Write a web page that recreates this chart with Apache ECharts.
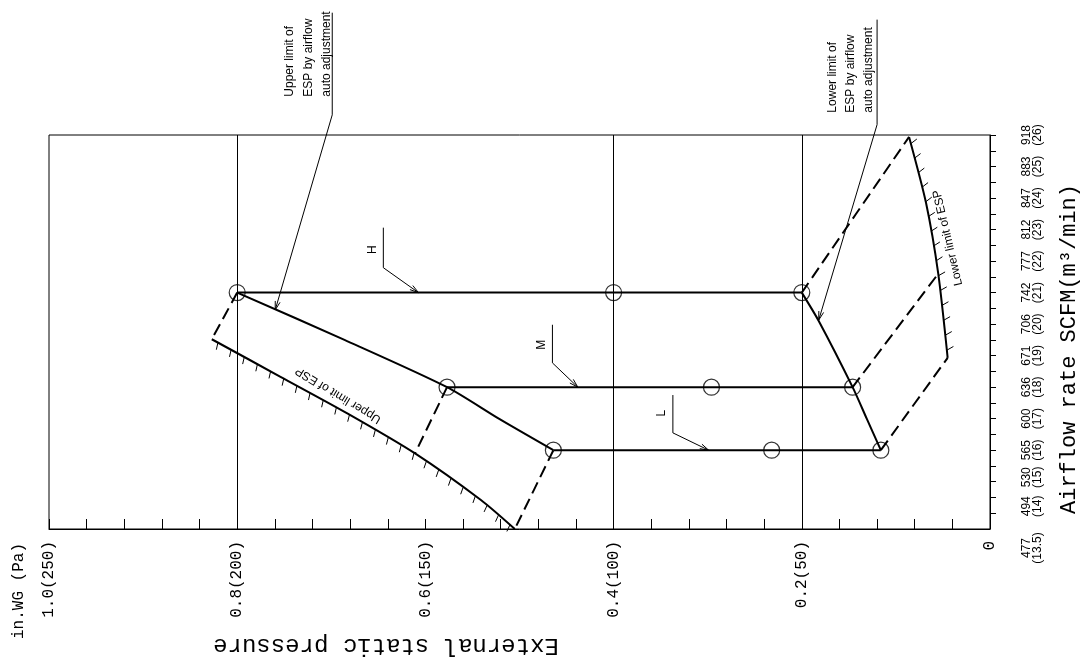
<!DOCTYPE html>
<html lang="en">
<head>
<meta charset="UTF-8">
<title>External static pressure</title>
<script src="https://cdn.jsdelivr.net/npm/echarts@6/dist/echarts.min.js"></script>
<style>
    html, body { margin: 0; padding: 0; background: #fff; }
    #chart { width: 1082px; height: 659px; }
</style>
</head>
<body>
<div id="chart"></div>
<script>
// pressure axis (in.WG), drawn horizontally with 0 on the right
var pressureTicks = [0, 0.2, 0.4, 0.6, 0.8, 1.0];
var pressureLabels = ['0', '0.2(50)', '0.4(100)', '0.6(150)', '0.8(200)', '1.0(250)'];
var pressureGrid = [0.2, 0.4, 0.8];

// airflow axis, m3/min and SCFM
var airflowM3 = [13.5, 14, 15, 16, 17, 18, 19, 20, 21, 22, 23, 24, 25, 26];
var airflowScfm = [477, 494, 530, 565, 600, 636, 671, 706, 742, 777, 812, 847, 883, 918];

// fan taps, points are [pressure, airflow]
var tapH = [[0.8, 21], [0.4, 21], [0.2, 21]];
var tapM = [[0.577, 18], [0.296, 18], [0.146, 18]];
var tapL = [[0.464, 16], [0.232, 16], [0.116, 16]];

// limits by airflow auto adjustment
var upperAuto = [[0.8, 21], [0.686, 19.5], [0.577, 18], [0.522, 17], [0.464, 16]];
var lowerAuto = [[0.2, 21], [0.182, 20.1], [0.146, 18], [0.131, 17], [0.116, 16]];

// limits of ESP (hatched)
var upperLimitEsp = [[0.827, 19.52], [0.754, 18.33], [0.683, 17.17], [0.611, 15.9], [0.541, 14.42], [0.505, 13.5]];
var lowerLimitEsp = [[0.086, 25.94], [0.068, 23.85], [0.055, 21.6], [0.045, 18.93]];

// dashed connectors
var dashHLeft = [[0.8, 21], [0.827, 19.52]];
var dashMLeft = [[0.577, 18], [0.611, 15.9]];
var dashLLeft = [[0.464, 16], [0.505, 13.5]];
var dashHRight = [[0.2, 21], [0.086, 25.94]];
var dashMRight = [[0.146, 18], [0.055, 21.6]];
var dashLRight = [[0.116, 16], [0.045, 18.93]];

// leader lines for the notes
var upperNoteLeader = [[0.699, 29.88], [0.699, 26.64], [0.7596, 20.45]];
var lowerNoteLeader = [[0.120, 29.66], [0.120, 26.33], [0.182, 20.13]];
var hLeader = [[0.6447, 23.06], [0.6447, 21.79], [0.6074, 21.0]];
var mLeader = [[0.465, 19.98], [0.465, 18.77], [0.438, 18.0]];
var lLeader = [[0.337, 17.75], [0.337, 16.55], [0.299, 16.0]];
var leaderTexts = ['Upper limit of\nESP by airflow\nauto adjustment', 'Lower limit of\nESP by airflow\nauto adjustment', 'H', 'M', 'L'];

var hatchTexts = ['Upper limit of ESP', 'Lower limit of ESP'];
var hatchTextAt = [[0.6926, 17.75], [0.0447, 22.74]];

var narrow = '"Liberation Sans Narrow", "Liberation Sans", sans-serif';
var mono = '"Liberation Mono", "DejaVu Sans Mono", monospace';

var leaders = [upperNoteLeader, lowerNoteLeader, hLeader, mLeader, lLeader];
var leaderLook = [
    { dx: -24, dy: 84, align: 'left', lh: 18.5, size: 12 },
    { dx: -26, dy: 93, align: 'left', lh: 18, size: 12 },
    { dx: -11, dy: 22, align: 'center', lh: 14, size: 12 },
    { dx: -11, dy: 20, align: 'center', lh: 14, size: 12 },
    { dx: -11, dy: 18, align: 'center', lh: 14, size: 12 }
];
var hatches = [upperLimitEsp, lowerLimitEsp];
var hatchLook = [
    { side: 1, lean: 2, rot: 2.594 },
    { side: -1, lean: -3, rot: 1.80 }
];

function line(data, dashed) {
    return {
        type: 'line',
        data: data,
        symbol: 'none',
        smooth: 0.25,
        silent: true,
        lineStyle: { color: '#000', width: 2, type: dashed ? [12, 6] : 'solid' },
        z: 3
    };
}

function findIndex(list, v) {
    for (var i = 0; i < list.length; i++) {
        if (Math.abs(list[i] - v) < 1e-6) return i;
    }
    return -1;
}

function renderLeader(params, api) {
    var i = params.dataIndex;
    var pts = leaders[i].map(function (d) { return api.coord(d); });
    var a = pts[pts.length - 2], b = pts[pts.length - 1];
    var ang = Math.atan2(b[1] - a[1], b[0] - a[0]);
    var len = 9, spread = 0.28;
    var look = leaderLook[i];
    return {
        type: 'group',
        children: [
            { type: 'polyline', shape: { points: pts }, style: { stroke: '#000', lineWidth: 1, fill: null } },
            {
                type: 'polyline',
                shape: { points: [
                    [b[0] - len * Math.cos(ang - spread), b[1] - len * Math.sin(ang - spread)],
                    b,
                    [b[0] - len * Math.cos(ang + spread), b[1] - len * Math.sin(ang + spread)]
                ] },
                style: { stroke: '#000', lineWidth: 1, fill: null }
            },
            {
                type: 'text',
                x: pts[0][0] + look.dx,
                y: pts[0][1] + look.dy,
                rotation: Math.PI / 2,
                style: {
                    text: leaderTexts[i], fontFamily: narrow, fontSize: look.size,
                    align: look.align, verticalAlign: 'middle', lineHeight: look.lh, fill: '#000'
                }
            }
        ]
    };
}

function renderHatch(params, api) {
    var i = params.dataIndex;
    var pts = hatches[i].map(function (d) { return api.coord(d); });
    var look = hatchLook[i];
    var children = [];
    var step = 15, next = 7, run = 0;
    for (var k = 0; k < pts.length - 1; k++) {
        var p = pts[k], q = pts[k + 1];
        var segLen = Math.hypot(q[0] - p[0], q[1] - p[1]);
        var dx = (q[0] - p[0]) / segLen, dy = (q[1] - p[1]) / segLen;
        var nx = -dy * look.side, ny = dx * look.side;
        while (next <= run + segLen) {
            var t = next - run;
            var x0 = p[0] + dx * t, y0 = p[1] + dy * t;
            children.push({
                type: 'line',
                shape: { x1: x0, y1: y0, x2: x0 + nx * 7 + dx * look.lean, y2: y0 + ny * 7 + dy * look.lean },
                style: { stroke: '#000', lineWidth: 1 }
            });
            next += step;
        }
        run += segLen;
    }
    var c = api.coord(hatchTextAt[i]);
    children.push({
        type: 'text', x: c[0], y: c[1], rotation: look.rot,
        style: { text: hatchTexts[i], fontFamily: narrow, fontSize: 12, align: 'center', verticalAlign: 'middle', fill: '#000' }
    });
    return { type: 'group', children: children };
}

function richStyle(pad) {
    var s = { fontFamily: narrow, fontSize: 12, lineHeight: 11, color: '#000' };
    if (pad) s.padding = pad;
    return s;
}

var chart = echarts.init(document.getElementById('chart'));

var hSeries = line([tapH[0], tapH[2]], false);
hSeries.markLine = {
    symbol: 'none',
    silent: true,
    label: { show: false },
    lineStyle: { color: '#000', width: 1, type: 'solid' },
    data: pressureGrid.map(function (p) { return { xAxis: p }; })
};

var option = {
    animation: false,
    backgroundColor: '#fff',
    grid: { left: 49, right: 92, top: 135, bottom: 130, show: true, borderColor: '#000', borderWidth: 1 },
    xAxis: {
        type: 'value', min: 0, max: 1, interval: 0.2, inverse: true,
        axisLine: { lineStyle: { color: '#000', width: 1 } },
        axisTick: { inside: true, length: 10, lineStyle: { color: '#000' } },
        minorTick: { show: true, splitNumber: 5, length: 10, lineStyle: { color: '#000' } },
        splitLine: { show: false },
        axisLabel: {
            rotate: 90, margin: 12, color: '#000', fontFamily: mono, fontSize: 16,
            showMinLabel: true, showMaxLabel: true,
            formatter: function (v) {
                var i = findIndex(pressureTicks, v);
                return i < 0 ? '' : pressureLabels[i];
            }
        }
    },
    yAxis: [
        {
            type: 'value', position: 'right', min: 13.5, max: 26, interval: 0.5,
            axisLine: { show: true, lineStyle: { color: '#000', width: 1 } },
            axisTick: { show: true, inside: false, length: 6, lineStyle: { color: '#000' } },
            splitLine: { show: false },
            axisLabel: {
                rotate: 90, margin: 31, color: '#000',
                showMinLabel: false, showMaxLabel: true,
                formatter: function (v) {
                    var i = findIndex(airflowM3, v);
                    if (i < 1) return '';
                    var key = i === 1 ? 'u' : (i === 2 ? 'u2' : 'n');
                    return '{' + key + '|' + airflowScfm[i] + '}\n{' + key + '|(' + airflowM3[i] + ')}';
                },
                rich: { n: richStyle(), u: richStyle([0, 0, 0, 14]), u2: richStyle([0, 0, 0, 9]) }
            }
        },
        {
            // second label row for the crowded lowest value only
            type: 'value', position: 'right', min: 13.5, max: 26, interval: 0.5,
            axisLine: { show: false }, axisTick: { show: false }, splitLine: { show: false },
            axisLabel: {
                rotate: 90, margin: 31, color: '#000',
                showMinLabel: true, showMaxLabel: false,
                formatter: function (v) {
                    var i = findIndex(airflowM3, v);
                    if (i !== 0) return '';
                    return '{d|' + airflowScfm[i] + '}\n{d|(' + airflowM3[i] + ')}';
                },
                rich: { d: richStyle([0, 38, 0, 0]) }
            }
        }
    ],
    graphic: [
        {
            type: 'text', x: 386, y: 645, rotation: Math.PI,
            style: { text: 'External static pressure', fontFamily: mono, fontSize: 24, align: 'center', verticalAlign: 'middle', fill: '#000' }
        },
        {
            type: 'text', x: 1069, y: 349, rotation: Math.PI / 2,
            style: { text: 'Airflow rate SCFM(m\u00b3/min)', fontFamily: mono, fontSize: 22, align: 'center', verticalAlign: 'middle', fill: '#000' }
        },
        {
            type: 'text', x: 19, y: 591, rotation: Math.PI / 2,
            style: { text: 'in.WG (Pa)', fontFamily: mono, fontSize: 16, align: 'center', verticalAlign: 'middle', fill: '#000' }
        }
    ],
    series: [
        hSeries,
        line([tapM[0], tapM[2]], false),
        line([tapL[0], tapL[2]], false),
        line(upperAuto, false),
        line(lowerAuto, false),
        line(upperLimitEsp, false),
        line(lowerLimitEsp, false),
        line(dashHLeft, true),
        line(dashMLeft, true),
        line(dashLLeft, true),
        line(dashHRight, true),
        line(dashMRight, true),
        line(dashLRight, true),
        {
            type: 'scatter',
            data: tapH.concat(tapM, tapL),
            symbol: 'circle',
            symbolSize: 16,
            silent: true,
            itemStyle: { color: 'rgba(0,0,0,0)', borderColor: '#000', borderWidth: 1.2 },
            z: 4
        },
        {
            type: 'custom',
            renderItem: renderHatch,
            data: hatches.map(function () { return [0.5, 20]; }),
            silent: true,
            z: 5
        },
        {
            type: 'custom',
            renderItem: renderLeader,
            data: leaders.map(function () { return [0.5, 20]; }),
            silent: true,
            z: 5
        }
    ]
};

chart.setOption(option);
</script>
</body>
</html>
